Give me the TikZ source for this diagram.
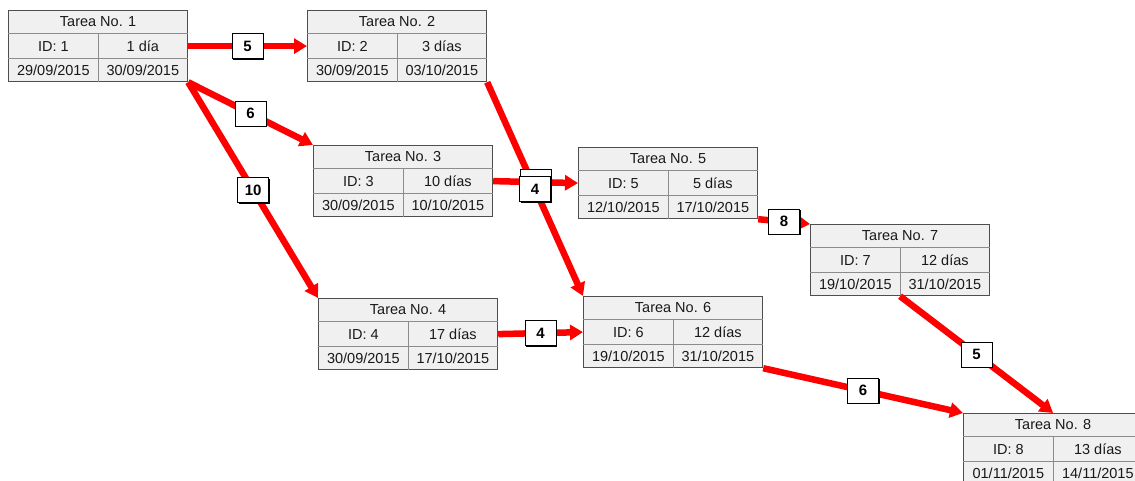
\documentclass[tikz,border=0pt]{standalone}
\usepackage{fontspec}
\setmainfont{Liberation Sans}
\usetikzlibrary{arrows.meta,shadows}
\definecolor{cellfill}{RGB}{240,240,240}
\definecolor{cellline}{RGB}{140,140,140}
\definecolor{boxline}{RGB}{78,78,78}
\definecolor{linkred}{RGB}{255,0,0}

% one task box: name, x, y, number, duration, start, end
\newcommand{\tarea}[7]{%
  \node[task] (#1) at (#2,#3) {};
  \draw[cellrule] ([yshift=-23.67pt]#1.north west) -- ([yshift=-23.67pt]#1.north east)
    ([yshift=23.67pt]#1.south west) -- ([yshift=23.67pt]#1.south east)
    ([yshift=-23.67pt]#1.north) -- (#1.south);
  \node[cell] at ([yshift=-11.83pt]#1.north) {Tarea No. #4};
  \node[cell] at ([xshift=-44.75pt]#1.center) {ID: #4};
  \node[cell] at ([xshift=44.75pt]#1.center) {#5};
  \node[cell] at ([xshift=-44.75pt,yshift=11.83pt]#1.south) {#6};
  \node[cell] at ([xshift=44.75pt,yshift=11.83pt]#1.south) {#7};
}

% links: from / to / lag (the 3->5 lag is hidden under the 2->6 one)
\newcommand{\links}{t1.east/t2.west/5, t1.south east/t3.north west/6,
  t1.south east/t4.north west/10, t3.east/t5.west/{},
  t2.south east/t6.north west/4, t4.east/t6.west/4,
  t5.south east/t7.north west/8, t6.south east/t8.north west/6,
  t7.south/t8.north/5}

\begin{document}
\begin{tikzpicture}[
  x=1pt,y=1pt,
  task/.style={rectangle,anchor=north west,minimum width=179pt,minimum height=71pt,
    inner sep=0pt,fill=cellfill,draw=boxline,line width=1.2pt},
  cellrule/.style={cellline,line width=1pt},
  cell/.style={inner sep=0pt,text=black!90,font=\fontsize{14.5}{17}\selectfont},
  flow/.style={linkred,line width=6.5pt,-{Triangle[length=13pt,width=15pt]}},
  lag/.style={rectangle,draw=black,fill=white,line width=1.2pt,inner sep=0pt,
    minimum width=31pt,minimum height=25pt,font=\fontsize{15}{18}\selectfont\bfseries,
    drop shadow={shadow xshift=1.3pt,shadow yshift=-1.3pt,opacity=1,fill=black}}
]
\useasboundingbox (0,0) rectangle (1135,-480);
\clip (0,0) rectangle (1135,-480);
\fill[white] (0,0) rectangle (1135,-480);

% tasks
\tarea{t1}{8}{-10}{1}{1 día}{29/09/2015}{30/09/2015}
\tarea{t2}{307}{-10}{2}{3 días}{30/09/2015}{03/10/2015}
\tarea{t3}{313}{-145}{3}{10 días}{30/09/2015}{10/10/2015}
\tarea{t4}{318}{-298}{4}{17 días}{30/09/2015}{17/10/2015}
\tarea{t5}{578}{-147}{5}{5 días}{12/10/2015}{17/10/2015}
\tarea{t6}{583}{-296}{6}{12 días}{19/10/2015}{31/10/2015}
\tarea{t7}{810}{-224}{7}{12 días}{19/10/2015}{31/10/2015}
\tarea{t8}{963}{-413}{8}{13 días}{01/11/2015}{14/11/2015}

% red links first, lag boxes on top
\foreach \a/\b/\l in \links
  \draw[flow] (\a) -- (\b);
\foreach \a/\b/\l in \links
  \path (\a) -- node[lag] {\l} (\b);
\end{tikzpicture}
\end{document}
